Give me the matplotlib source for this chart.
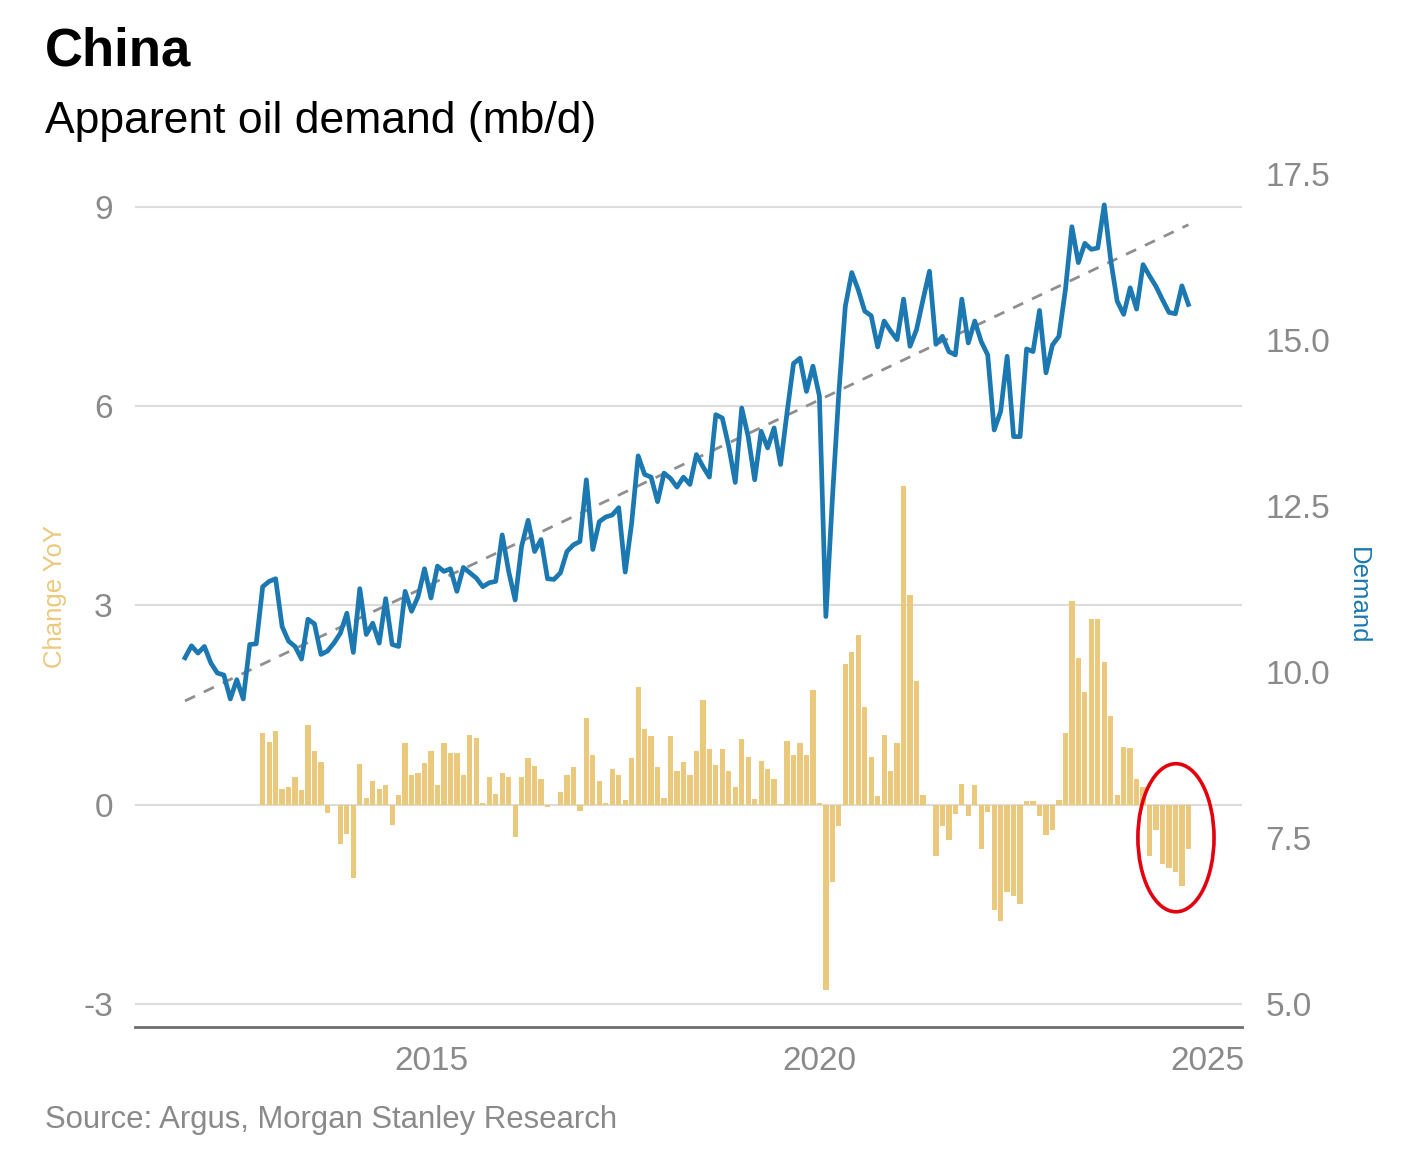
import numpy as np
import matplotlib
matplotlib.use('Agg')
import matplotlib.pyplot as plt
from matplotlib.patches import Ellipse

plt.rcParams['font.family'] = ['Liberation Sans', 'DejaVu Sans']

# monthly apparent demand, Nov 2011 - Oct 2024 (mb/d)
demand = [
    10.21, 10.39, 10.28, 10.38, 10.13, 9.98, 9.95, 9.59, 9.88, 9.59, 10.41, 10.42,
    11.28, 11.36, 11.40, 10.68, 10.46, 10.38, 10.19, 10.79, 10.72, 10.26, 10.31, 10.43,
    10.58, 10.88, 10.29, 11.25, 10.56, 10.73, 10.43, 11.10, 10.41, 10.38, 11.21, 10.91,
    11.13, 11.55, 11.11, 11.59, 11.51, 11.55, 11.21, 11.57, 11.49, 11.41, 11.28, 11.34,
    11.36, 12.06, 11.51, 11.08, 11.89, 12.28, 11.81, 11.99, 11.40, 11.39, 11.49, 11.81,
    11.91, 11.96, 12.89, 11.84, 12.26, 12.33, 12.36, 12.47, 11.50, 12.24, 13.25, 12.97,
    12.93, 12.56, 12.99, 12.91, 12.78, 12.93, 12.82, 13.27, 13.09, 12.93, 13.87, 13.82,
    13.39, 12.85, 13.97, 13.54, 12.89, 13.62, 13.37, 13.67, 13.12, 13.90, 14.64, 14.72,
    14.22, 14.60, 14.15, 10.83, 12.60, 14.20, 15.50, 16.01, 15.75, 15.43, 15.36, 14.89,
    15.28, 15.13, 15.00, 15.61, 14.90, 15.15, 15.60, 16.03, 14.93, 15.05, 14.82, 14.77,
    15.61, 14.95, 15.28, 14.97, 14.77, 13.64, 13.92, 14.75, 13.54, 13.54, 14.86, 14.82,
    15.44, 14.50, 14.92, 15.05, 15.75, 16.70, 16.16, 16.45, 16.36, 16.38, 17.03, 16.20,
    15.58, 15.38, 15.78, 15.46, 16.13, 15.96, 15.80, 15.60, 15.41, 15.39, 15.81, 15.53,
]

# year-on-year change, Nov 2012 - Oct 2024 (mb/d)
change_yoy = [
    1.07, 0.94, 1.11, 0.24, 0.27, 0.41, 0.22, 1.20, 0.81, 0.64,
    -0.12, 0.00, -0.60, -0.44, -1.10, 0.61, 0.10, 0.36, 0.24, 0.29,
    -0.31, 0.14, 0.92, 0.45, 0.48, 0.63, 0.80, 0.29, 0.92, 0.77,
    0.77, 0.45, 1.04, 1.00, 0.02, 0.41, 0.16, 0.48, 0.42, -0.49,
    0.41, 0.70, 0.58, 0.39, -0.04, 0.00, 0.19, 0.45, 0.56, -0.10,
    1.31, 0.75, 0.35, 0.02, 0.54, 0.45, 0.07, 0.70, 1.77, 1.14,
    1.03, 0.57, 0.10, 1.03, 0.50, 0.64, 0.44, 0.81, 1.58, 0.83,
    0.59, 0.84, 0.50, 0.27, 0.98, 0.71, 0.09, 0.65, 0.53, 0.39,
    0.01, 0.95, 0.74, 0.92, 0.75, 1.73, 0.02, -2.80, -1.17, -0.33,
    2.12, 2.29, 2.56, 1.47, 0.71, 0.13, 1.04, 0.51, 0.93, 4.79,
    3.16, 1.86, 0.15, 0.00, -0.77, -0.32, -0.54, -0.14, 0.31, -0.17,
    0.29, -0.67, -0.11, -1.59, -1.75, -1.32, -1.38, -1.50, 0.05, 0.05,
    -0.18, -0.46, -0.38, 0.07, 1.07, 3.06, 2.20, 1.69, 2.80, 2.80,
    2.14, 1.33, 0.15, 0.86, 0.85, 0.39, 0.26, -0.78, -0.38, -0.90,
    -0.95, -1.02, -1.22, -0.67,
]

# dashed trend, start and end values
trend = [9.56, 16.73]

left_ticks = [-3, 0, 3, 6, 9]
right_ticks = [5.0, 7.5, 10.0, 12.5, 15.0, 17.5]
year_ticks = [2015, 2020, 2025]

t = 2011 + 10 / 12 + np.arange(len(demand)) / 12
t_bar = t[len(demand) - len(change_yoy):]

BLUE = '#1b78b1'
TAN = '#ebc97c'
GREY = '#8a8a8a'

fig = plt.figure(figsize=(14.08, 11.66), dpi=100)
ax = fig.add_axes([0.0959, 0.1192, 0.7862, 0.7376])
ax2 = ax.twinx()

ax.bar(t_bar, change_yoy, width=0.068, color=TAN, zorder=2)

ax.set_xlim(2011.19, 2025.44)
ax.set_ylim(-3.35, 9.6)
ax2.set_ylim(-3.35 + 8, 9.6 + 8)

ax.set_yticks(left_ticks)
ax.set_yticklabels([str(v) for v in left_ticks])
ax2.set_yticks(right_ticks)
ax2.set_yticklabels(['%.1f' % v for v in right_ticks])
ax.set_xticks(year_ticks)
ax.set_xticklabels([str(y) for y in year_ticks])

ax.yaxis.grid(True, color='#dcdcdc', lw=1.5, zorder=0)
ax.set_axisbelow(True)

for a in (ax, ax2):
    for s in ('top', 'left', 'right', 'bottom'):
        a.spines[s].set_visible(False)
ax.spines['bottom'].set_visible(True)
ax.spines['bottom'].set_color('#6e6e6e')
ax.spines['bottom'].set_linewidth(2)

ax.tick_params(axis='y', length=0, pad=16, labelsize=24, labelcolor=GREY)
ax.tick_params(axis='x', length=0, pad=14, labelsize=24, labelcolor=GREY)
ax2.tick_params(axis='y', length=0, pad=17, labelsize=24, labelcolor=GREY)

ax2.plot([t[0], t[-1]], trend, color='#8f8f8f', lw=2, dashes=(4, 3.5), zorder=3)
ax2.plot(t, demand, color=BLUE, lw=3.4, zorder=4)

ax2.add_patch(Ellipse((2024.59, 7.5), 0.98, 2.23, fill=False,
                      ec='#e3000f', lw=2.6, zorder=5))

fig.text(0.032, 0.944, 'China', fontsize=38, fontweight='bold', va='baseline')
fig.text(0.032, 0.886, 'Apparent oil demand (mb/d)', fontsize=32, va='baseline')
fig.text(0.032, 0.0326, 'Source: Argus, Morgan Stanley Research', fontsize=22.4,
         color=GREY, va='baseline')
fig.text(0.039, 0.488, 'Change YoY', fontsize=18.5, color=TAN, rotation=90,
         ha='center', va='center')
fig.text(0.9645, 0.489, 'Demand', fontsize=18.5, color=BLUE, rotation=270,
         ha='center', va='center')

fig.savefig('out.png', dpi=100)
